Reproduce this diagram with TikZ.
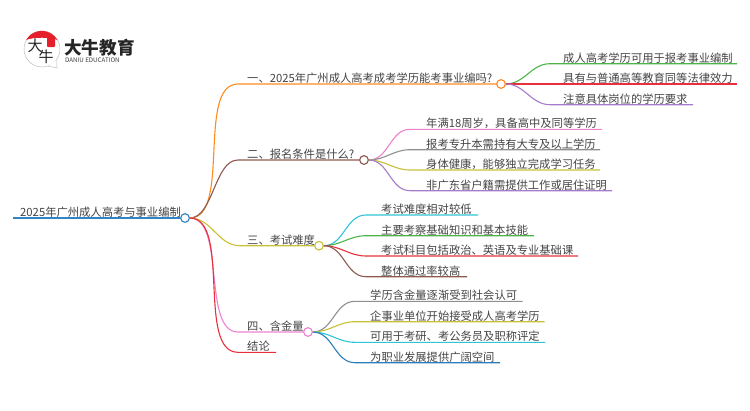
\documentclass[tikz,border=0pt]{standalone}
\usepackage{fontspec}
\setmainfont{Noto Sans CJK SC}
\usepackage{xcolor}
\usepackage{tikz}
\usetikzlibrary{positioning, shapes.geometric}
\definecolor{rootblue}{HTML}{2E86C8}
\definecolor{branchorange}{HTML}{FF8A1E}
\definecolor{branchbrown}{HTML}{8E5A50}
\definecolor{branckolive}{HTML}{C9C035}
\definecolor{branchpink}{HTML}{EE82CF}
\definecolor{branchred}{HTML}{E8303A}
\definecolor{leafgreen}{HTML}{4CB548}
\definecolor{leafpurple}{HTML}{A57CCB}
\definecolor{leafgray}{HTML}{8F8F8F}
\definecolor{leafcyan}{HTML}{2EC4D6}
\definecolor{leafblue}{HTML}{2A7FBA}
\definecolor{inktext}{HTML}{444444}
\definecolor{logored}{HTML}{E5202A}

\begin{document}
\begin{tikzpicture}[x=1pt, y=-1pt]
    \tikzstyle{topic} = [inner sep=0pt, anchor=base west, text=inktext, font=\fontsize{11.3}{13}\selectfont]
    \tikzstyle{knot} = [circle, draw, fill=white, line width=1pt, inner sep=0pt, minimum size=8.5pt]
    \tikzstyle{wire} = [line width=1.1pt]

    \useasboundingbox (0,0) rectangle (750,410);

    % logo
    \path [draw=black!25, fill=white, line width=0.5pt] (29,55) arc (140:-210:0pt) -- cycle;
    \node [circle, draw=black!25, fill=white, line width=0.5pt, minimum size=36pt, inner sep=0pt] (badge) at (42,49) {};
    \coordinate (tail) at (57,68);
    \draw [black!25, fill=white, line width=0.5pt] (badge.-70) -- (tail) -- (badge.-35);
    \fill [logored] (badge.150) arc (150:30:18pt) .. controls (50,37) and (34,37) .. (badge.150);
    \node [inner sep=0pt, text=black!85, font=\fontsize{15}{15}\selectfont] (badgeda) at (35,46) {大};
    \node [inner sep=0pt, text=black!85, font=\fontsize{15}{15}\selectfont] (badgeniu) at (46,57) {牛};
    \node [fill=logored, rounded corners=1pt, minimum width=8pt, minimum height=10pt, inner sep=0pt] (stamp) at (51,42) {};
    \node [inner sep=0pt, anchor=west, text=black!85, font=\fontsize{17.6}{18}\selectfont\bfseries] (brand) at (64,48) {大牛教育};
    \node [inner sep=0pt, anchor=west, text=black!75, font=\fontsize{6.2}{7}\selectfont] (brandsub) at (65,60.5) {DANIU EDUCATION};

    % root
    \coordinate (rootstart) at (13,218);
    \node [knot, draw=rootblue] (root) at (185,218) {};
    \node [topic] (roottext) at (20,216) {2025年广州成人高考与事业编制};

    % branch knots
    \node [knot, draw=branchorange] (first) at (501,84) {};
    \node [knot, draw=branchbrown] (second) at (364,160) {};
    \node [knot, draw=branckolive] (third) at (319,245.7) {};
    \node [knot, draw=branchpink] (fourth) at (308,332) {};

    \coordinate (firstbend) at (238,84);
    \coordinate (secondbend) at (238,160);
    \coordinate (thirdbend) at (240,245.7);
    \coordinate (fourthbend) at (238,332);
    \coordinate (endbend) at (238,352.3);
    \coordinate (endstop) at (276,352.3);

    \node [topic] (firsttext) at (247,82) {一、2025年广州成人高考成考学历能考事业编吗?};
    \node [topic] (secondtext) at (247,158) {二、报名条件是什么?};
    \node [topic] (thirdtext) at (247,244) {三、考试难度};
    \node [topic] (fourthtext) at (247,330) {四、含金量};
    \node [topic] (endtext) at (247,350) {结论};

    % first leaves
    \node [topic] (firsta) at (563,62) {成人高考学历可用于报考事业编制};
    \node [topic] (firstb) at (563,82) {具有与普通高等教育同等法律效力};
    \node [topic] (firstc) at (563,103) {注意具体岗位的学历要求};
    \coordinate (firstaa) at (550,63.7);
    \coordinate (firstab) at (737,63.7);
    \coordinate (firstbb) at (737,84);
    \coordinate (firstca) at (550,104.7);
    \coordinate (firstcb) at (693,104.7);

    % second leaves
    \node [topic] (seconda) at (426,127.5) {年满18周岁，具备高中及同等学历};
    \node [topic] (secondb) at (426,148) {报考专升本需持有大专及以上学历};
    \node [topic] (secondc) at (426,168) {身体健康，能够独立完成学习任务};
    \node [topic] (secondd) at (426,189) {非广东省户籍需提供工作或居住证明};
    \coordinate (secondaa) at (410,129.3);
    \coordinate (secondab) at (602,129.3);
    \coordinate (secondba) at (410,149.7);
    \coordinate (secondbb) at (600,149.7);
    \coordinate (secondca) at (410,170);
    \coordinate (secondcb) at (600,170);
    \coordinate (secondda) at (410,190.7);
    \coordinate (seconddb) at (612,190.7);

    % third leaves
    \node [topic] (thirda) at (381,213) {考试难度相对较低};
    \node [topic] (thirdb) at (381,234) {主要考察基础知识和基本技能};
    \node [topic] (thirdc) at (381,254) {考试科目包括政治、英语及专业基础课};
    \node [topic] (thirdd) at (381,275) {整体通过率较高};
    \coordinate (thirdaa) at (366,215);
    \coordinate (thirdab) at (478,215);
    \coordinate (thirdba) at (366,235.7);
    \coordinate (thirdbb) at (534,235.7);
    \coordinate (thirdca) at (366,256);
    \coordinate (thirdcb) at (578,256);
    \coordinate (thirdda) at (366,276.7);
    \coordinate (thirddb) at (467,276.7);

    % fourth leaves
    \node [topic] (fourtha) at (370,299.5) {学历含金量逐渐受到社会认可};
    \node [topic] (fourthb) at (370,320) {企事业单位开始接受成人高考学历};
    \node [topic] (fourthc) at (370,340.5) {可用于考研、考公务员及职称评定};
    \node [topic] (fourthd) at (370,361) {为职业发展提供广阔空间};
    \coordinate (fourthaa) at (355,301.3);
    \coordinate (fourthab) at (522.7,301.3);
    \coordinate (fourthba) at (355,321.7);
    \coordinate (fourthbb) at (544.7,321.7);
    \coordinate (fourthca) at (355,342.3);
    \coordinate (fourthcb) at (545,342.3);
    \coordinate (fourthda) at (355,362.7);
    \coordinate (fourthdb) at (500,362.7);

    % wires, knots stay on top
    \begin{scope}[on background layer/.style={}]
    \draw [wire, rootblue] (rootstart) -- (root);
    \draw [wire, branchorange] (root.east) to[out=0, in=180, looseness=0.75] (firstbend) -- (first);
    \draw [wire, branchbrown] (root.east) to[out=0, in=180, looseness=0.8] (secondbend) -- (second);
    \draw [wire, branckolive] (root.east) to[out=0, in=180] (thirdbend) -- (third);
    \draw [wire, branchpink] (root.east) to[out=0, in=180, looseness=0.75] (fourthbend) -- (fourth);
    \draw [wire, branchred] (root.east) to[out=0, in=180, looseness=0.75] (endbend) -- (endstop);

    \draw [wire, leafgreen] (first.east) to[out=0, in=180] (firstaa) -- (firstab);
    \draw [wire, branchred] (first.east) -- (firstbb);
    \draw [wire, leafpurple] (first.east) to[out=0, in=180] (firstca) -- (firstcb);

    \draw [wire, branchpink] (second.east) to[out=0, in=180] (secondaa) -- (secondab);
    \draw [wire, leafgray] (second.east) to[out=0, in=180] (secondba) -- (secondbb);
    \draw [wire, branckolive] (second.east) to[out=0, in=180] (secondca) -- (secondcb);
    \draw [wire, leafpurple] (second.east) to[out=0, in=180] (secondda) -- (seconddb);

    \draw [wire, leafcyan] (third.east) to[out=0, in=180] (thirdaa) -- (thirdab);
    \draw [wire, leafgreen] (third.east) to[out=0, in=180] (thirdba) -- (thirdbb);
    \draw [wire, branchred] (third.east) to[out=0, in=180] (thirdca) -- (thirdcb);
    \draw [wire, branchbrown] (third.east) to[out=0, in=180] (thirdda) -- (thirddb);

    \draw [wire, leafgray] (fourth.east) to[out=0, in=180] (fourthaa) -- (fourthab);
    \draw [wire, branckolive] (fourth.east) to[out=0, in=180] (fourthba) -- (fourthbb);
    \draw [wire, leafcyan] (fourth.east) to[out=0, in=180] (fourthca) -- (fourthcb);
    \draw [wire, leafblue] (fourth.east) to[out=0, in=180] (fourthda) -- (fourthdb);
    \end{scope}

    \node [knot, draw=rootblue] at (root) {};
    \node [knot, draw=branchorange] at (first) {};
    \node [knot, draw=branchbrown] at (second) {};
    \node [knot, draw=branckolive] at (third) {};
    \node [knot, draw=branchpink] at (fourth) {};
\end{tikzpicture}
\end{document}
